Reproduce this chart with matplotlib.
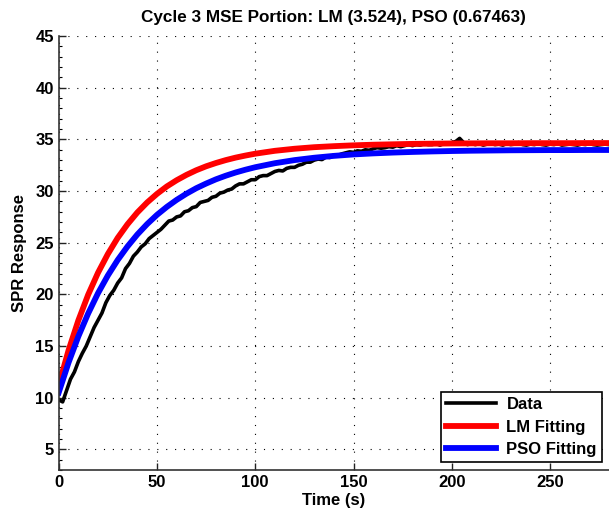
import numpy as np
import matplotlib
matplotlib.use('Agg')
import matplotlib.pyplot as plt
from matplotlib.ticker import MultipleLocator

# measured SPR data, one sample every 2 s
data_t = list(range(0, 282, 2))
data_y = [9.8, 9.6, 10.7, 11.8, 12.5, 13.5, 14.3, 15.0, 15.9, 16.8,
          17.5, 18.2, 19.2, 19.9, 20.4, 21.1, 21.6, 22.5, 23.0, 23.7,
          24.1, 24.6, 24.9, 25.4, 25.7, 26.0, 26.3, 26.7, 27.1, 27.2,
          27.5, 27.6, 28.0, 28.1, 28.4, 28.5, 28.9, 29.0, 29.1, 29.4,
          29.5, 29.8, 29.9, 30.1, 30.2, 30.5, 30.7, 30.7, 30.9, 31.1,
          31.1, 31.4, 31.5, 31.5, 31.7, 31.9, 32.0, 31.95, 32.2, 32.3,
          32.3, 32.5, 32.6, 32.8, 32.8, 33.0, 33.1, 33.05, 33.3, 33.25,
          33.5, 33.45, 33.6, 33.7, 33.8, 33.75, 33.9, 33.85, 34.0, 33.95,
          34.1, 34.2, 34.15, 34.2, 34.3, 34.25, 34.4, 34.3, 34.4, 34.5,
          34.4, 34.5, 34.45, 34.6, 34.5, 34.5, 34.6, 34.45, 34.6, 34.55,
          34.7, 34.8, 35.1, 34.7, 34.5, 34.6, 34.5, 34.6, 34.45, 34.55,
          34.6, 34.5, 34.55, 34.45, 34.6, 34.5, 34.55, 34.7, 34.5, 34.45,
          34.55, 34.5, 34.6, 34.5, 34.45, 34.55, 34.5, 34.6, 34.45, 34.5,
          34.55, 34.5, 34.45, 34.55, 34.5, 34.6, 34.5, 34.45, 34.5, 34.55,
          34.5]

# fitted curves
fit_t = [0, 5, 10, 15, 20, 25, 30, 35, 40, 45, 50, 55, 60, 65, 70, 75, 80,
         85, 90, 95, 100, 110, 120, 130, 140, 150, 160, 170, 180, 190, 200,
         210, 220, 230, 240, 250, 260, 270, 280]
lm_y = [11.2, 14.59, 17.49, 19.98, 22.1, 23.91, 25.47, 26.79, 27.93, 28.9,
        29.73, 30.45, 31.05, 31.57, 32.02, 32.4, 32.72, 33.0, 33.24, 33.44,
        33.62, 33.9, 34.1, 34.25, 34.35, 34.43, 34.49, 34.53, 34.57, 34.59,
        34.61, 34.62, 34.63, 34.63, 34.64, 34.64, 34.64, 34.65, 34.65]
pso_y = [10.5, 13.4, 15.94, 18.16, 20.12, 21.83, 23.33, 24.64, 25.8, 26.81,
         27.7, 28.47, 29.15, 29.75, 30.28, 30.73, 31.14, 31.49, 31.8, 32.07,
         32.31, 32.7, 33.0, 33.23, 33.41, 33.55, 33.65, 33.73, 33.79, 33.84,
         33.88, 33.91, 33.93, 33.95, 33.96, 33.97, 33.97, 33.98, 33.98]

plt.rcParams['font.family'] = ['Liberation Sans', 'DejaVu Sans']
plt.rcParams['font.weight'] = 'bold'

fig = plt.figure(figsize=(6.09, 5.16), dpi=100)
ax = fig.add_axes([0.0964, 0.089, 0.9036, 0.841])

ax.plot(data_t, data_y, color='black', lw=2.6, label='Data')
ax.plot(fit_t, lm_y, color='red', lw=4.2, label='LM Fitting')
ax.plot(fit_t, pso_y, color='blue', lw=4.2, label='PSO Fitting')

ax.set_xlim(0, 280)
ax.set_ylim(3, 45)
ax.set_xticks(np.arange(0, 251, 50))
ax.set_yticks(np.arange(5, 46, 5))
ax.yaxis.set_minor_locator(MultipleLocator(1))
ax.tick_params(direction='in', labelsize=12, length=5, width=1, colors='#222222')
ax.tick_params(which='minor', direction='in', length=2.5, width=0.8)
for lbl in ax.get_xticklabels() + ax.get_yticklabels():
    lbl.set_fontweight('bold')
    lbl.set_color('black')

ax.grid(True, which='major', color='black', linestyle=(0, (1, 7)), lw=0.8)
ax.spines['top'].set_visible(False)
ax.spines['right'].set_visible(False)
for s in ['left', 'bottom']:
    ax.spines[s].set_color('#333333')
    ax.spines[s].set_linewidth(1.2)

ax.set_title('Cycle 3 MSE Portion: LM (3.524), PSO (0.67463)',
             fontsize=12.3, fontweight='bold', pad=10)
ax.set_xlabel('Time (s)', fontsize=12, fontweight='bold', labelpad=2)
ax.set_ylabel('SPR Response', fontsize=12, fontweight='bold', labelpad=6)

leg = ax.legend(loc='lower right', bbox_to_anchor=(0.987, 0.018), fancybox=False,
                framealpha=1, edgecolor='black', fontsize=12,
                handlelength=3.0, borderpad=0.3, labelspacing=0.45,
                handletextpad=0.6, borderaxespad=0)
leg.get_frame().set_linewidth(1.2)
for t in leg.get_texts():
    t.set_fontweight('bold')

fig.savefig('out.png', dpi=100)
